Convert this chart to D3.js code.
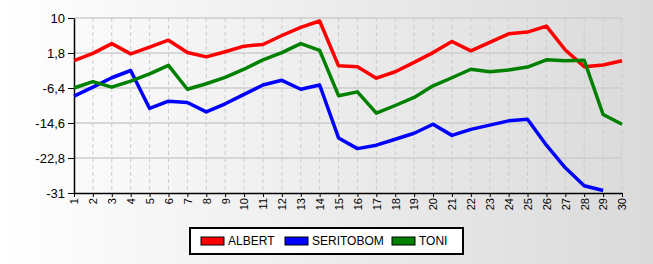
<!DOCTYPE html>
<html>
<head>
<meta charset="utf-8">
<script src="https://cdn.jsdelivr.net/npm/d3@7"></script>
<style>
  body { margin: 0; }
  svg { display: block; font-family: "Liberation Sans", Arial, sans-serif; }
</style>
</head>
<body>
<script>
const totalWidth = 653;
const totalHeight = 264;
const margin = { top: 18, right: 31, bottom: 71, left: 74 };
const width = totalWidth - margin.left - margin.right;
const height = totalHeight - margin.top - margin.bottom;

const days = d3.range(1, 31);
const yTicks = [10, 1.8, -6.4, -14.6, -22.8, -31];

const albert = [0, 1.7, 4.0, 1.6, 3.2, 4.8, 1.9, 0.9, 2.1, 3.4, 3.8, 5.9, 7.8, 9.3, -1.2,
  -1.4, -4.1, -2.6, -0.4, 1.9, 4.5, 2.3, 4.3, 6.3, 6.7, 8.1, 2.5, -1.4, -1.0, 0.0];
const seritobom = [-8.3, -6.2, -4.0, -2.3, -11.2, -9.5, -9.8, -12.0, -10.1, -7.9, -5.7, -4.6, -6.7, -5.7, -18.1,
  -20.6, -19.8, -18.4, -17.0, -14.9, -17.5, -16.1, -15.1, -14.1, -13.7, -19.8, -25.1, -29.3, -30.4, null];
const toni = [-6.4, -4.9, -6.2, -4.8, -3.1, -1.1, -6.7, -5.4, -3.9, -2.0, 0.2, 1.9, 4.0, 2.4, -8.2,
  -7.3, -12.3, -10.5, -8.6, -5.9, -4.0, -2.0, -2.6, -2.2, -1.5, 0.2, 0.0, 0.1, -12.6, -14.9];

const series = [
  { name: "ALBERT", values: albert, color: "#ff0000" },
  { name: "SERITOBOM", values: seritobom, color: "#0000ff" },
  { name: "TONI", values: toni, color: "#008000" }
];

const svg = d3.select("body")
  .append("svg")
  .attr("width", totalWidth)
  .attr("height", totalHeight);

const grad = svg.append("defs")
  .append("linearGradient")
  .attr("id", "bg")
  .attr("x1", "0%").attr("y1", "0%")
  .attr("x2", "100%").attr("y2", "0%");
grad.append("stop").attr("offset", "0%").attr("stop-color", "#ffffff");
grad.append("stop").attr("offset", "100%").attr("stop-color", "#dadada");

svg.append("rect")
  .attr("width", totalWidth)
  .attr("height", totalHeight)
  .attr("fill", "url(#bg)");

const g = svg.append("g")
  .attr("transform", `translate(${margin.left}, ${margin.top})`);

const xScale = d3.scaleLinear()
  .domain([1, 30])
  .range([0, width]);

const yScale = d3.scaleLinear()
  .domain([-31, 10])
  .range([height, 0]);

// grid
g.append("g")
  .selectAll("line")
  .data(days.slice(1))
  .enter()
  .append("line")
  .attr("x1", d => xScale(d))
  .attr("x2", d => xScale(d))
  .attr("y1", 0)
  .attr("y2", height)
  .attr("stroke", "#cccccc")
  .attr("stroke-dasharray", "4,3");

g.append("g")
  .selectAll("line")
  .data(yTicks.slice(0, -1))
  .enter()
  .append("line")
  .attr("x1", 0)
  .attr("x2", width)
  .attr("y1", d => yScale(d))
  .attr("y2", d => yScale(d))
  .attr("stroke", "#cccccc")
  .attr("stroke-width", 1.5);

// axes
const yAxis = g.append("g")
  .call(d3.axisLeft(yScale).tickValues(yTicks).tickFormat(d => String(d).replace(".", ",")).tickSize(6).tickSizeOuter(0));
yAxis.select(".domain").attr("stroke", "#000").attr("stroke-width", 1.5);
yAxis.selectAll("text").attr("font-size", 13).attr("fill", "#000").attr("font-family", "Liberation Sans, Arial, sans-serif");

const xAxis = g.append("g")
  .attr("transform", `translate(0, ${height})`)
  .call(d3.axisBottom(xScale).tickValues(days).tickFormat(d3.format("d")).tickSize(4).tickSizeOuter(0));
xAxis.select(".domain").attr("stroke", "#000").attr("stroke-width", 1.5);
xAxis.selectAll("text")
  .attr("font-size", 11)
  .attr("fill", "#000")
  .attr("font-family", "Liberation Sans, Arial, sans-serif")
  .attr("text-anchor", "end")
  .attr("dy", "0.35em")
  .attr("transform", "translate(0, -3) rotate(-90)")
  .attr("x", -8)
  .attr("y", 0);

// lines
const line = d3.line()
  .defined(d => d != null)
  .x((d, i) => xScale(days[i]))
  .y(d => yScale(d));

g.selectAll(".series")
  .data(series)
  .enter()
  .append("path")
  .attr("fill", "none")
  .attr("stroke", d => d.color)
  .attr("stroke-width", 3.5)
  .attr("stroke-linejoin", "round")
  .attr("d", d => line(d.values));

// legend
const legend = svg.append("g")
  .attr("transform", "translate(190, 228)");
legend.append("rect")
  .attr("width", 273)
  .attr("height", 26)
  .attr("fill", "#fff")
  .attr("stroke", "#000")
  .attr("stroke-width", 2);

const legendX = [11, 95, 202];
const item = legend.selectAll(".item")
  .data(series)
  .enter()
  .append("g")
  .attr("transform", (d, i) => `translate(${legendX[i]}, 0)`);
item.append("rect")
  .attr("y", 9)
  .attr("width", 23)
  .attr("height", 8)
  .attr("fill", d => d.color)
  .attr("stroke", "#000");
item.append("text")
  .attr("x", 27)
  .attr("y", 17)
  .attr("font-size", 12)
  .text(d => d.name);
</script>
</body>
</html>
